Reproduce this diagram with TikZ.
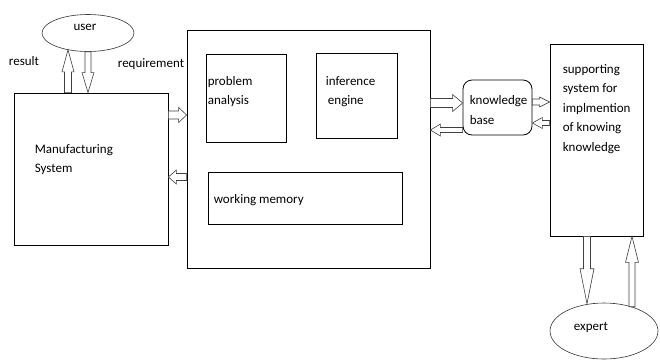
\documentclass[tikz,border=0pt]{standalone}
\usepackage{fontspec}
\setmainfont{Carlito}
\usetikzlibrary{calc,shapes.geometric,positioning}

\begin{document}
\begin{tikzpicture}
  [x=1pt,y=-1pt,
 box/.style={
  rectangle,
  draw=black,
  line width=0.8pt,
  inner sep=0pt},
 oval/.style={
  ellipse,
  draw=black!80,
  line width=0.6pt,
  inner sep=0pt},
 txt/.style={
  font=\fontsize{13}{19.5}\selectfont,
  align=left,
  inner sep=0pt},
 % hollow block arrow: #1 half shaft, #2 half head, #3 head length
 blockarrow/.style n args={3}{
  draw=black!75,
  fill=white,
  line width=0.6pt,
  to path={let \p1=(\tikztostart), \p2=(\tikztotarget),
    \n1={atan2(\y2-\y1,\x2-\x1)}, \n2={veclen(\x2-\x1,\y2-\y1)-#3pt} in
    ($(\p1)+(\n1+90:#1pt)$)
    -- ($(\p1)+(\n1:\n2)+(\n1+90:#1pt)$)
    -- ($(\p1)+(\n1:\n2)+(\n1+90:#2pt)$)
    -- (\p2)
    -- ($(\p1)+(\n1:\n2)+(\n1-90:#2pt)$)
    -- ($(\p1)+(\n1:\n2)+(\n1-90:#1pt)$)
    -- ($(\p1)+(\n1-90:#1pt)$) -- cycle}}]
\useasboundingbox (0,0) rectangle (660,360);
\node (user) [oval, minimum width=92pt, minimum height=37pt, label={[txt,xshift=-3pt,yshift=6pt]center:user}] at (88,33) {};
\node (man) [box, minimum width=154pt, minimum height=152pt, label={[txt,anchor=west,xshift=21pt,yshift=9.5pt]west:Manufacturing\\System}] at (91,169) {};
\node (result) [txt] at (24,61) {result};
\node (req) [txt] at (151,64) {requirement};
\node (main) [box, minimum width=243pt, minimum height=238pt] at (308.5,149) {};
\node (pa) [box, minimum width=80pt, minimum height=88pt, label={[txt,anchor=west,xshift=2pt,yshift=6.5pt]west:problem\\analysis}] at (246,98) {};
\node (ie) [box, minimum width=81pt, minimum height=85pt, label={[txt,anchor=west,xshift=10pt,yshift=4pt]west:inference\\\,engine}] at (356.5,95.5) {};
\node (wm) [box, minimum width=194pt, minimum height=52pt, label={[txt,anchor=west,xshift=6pt,yshift=-2pt]west:working memory}] at (305,198) {};
\node (kb) [box, rounded corners=9pt, minimum width=69pt, minimum height=55pt, label={[txt,anchor=west,xshift=7pt,yshift=-2.5pt]west:knowledge\\base}] at (497.5,107.5) {};
\node (sup) [box, minimum width=93pt, minimum height=192pt, label={[txt,anchor=west,xshift=13pt,yshift=31pt]west:supporting\\system for\\implmention\\of knowing\\knowledge}] at (596.5,140) {};
\node (expert) [oval, minimum width=108pt, minimum height=56pt, label={[txt,xshift=-13pt,yshift=4pt]center:expert}] at (604,331) {};
% user <-> manufacturing system
\draw[blockarrow={3.5}{6}{22}] ([xshift=-23pt]man.north) to ([xshift=-20pt,yshift=2pt]user.south);
\draw[blockarrow={3}{6}{20}] (user.south) to ([xshift=-3pt]man.north);
% manufacturing system <-> expert system
\draw[blockarrow={4}{7.5}{8}] ([yshift=54pt]man.east) to ([yshift=34pt]main.west);
\draw[blockarrow={3.5}{7}{8}] ([yshift=-28pt]main.west) to ([yshift=-8pt]man.east);
% expert system <-> knowledge base
\draw[blockarrow={4.5}{8.5}{10}] ([yshift=46pt]main.east) to ([yshift=4.5pt]kb.west);
\draw[blockarrow={2.5}{6}{10}] ([yshift=-22.5pt]kb.west) to ([yshift=19pt]main.east);
% knowledge base <-> supporting system
\draw[blockarrow={3}{5}{10}] ([yshift=5.5pt]kb.east) to ([yshift=38pt]sup.west);
\draw[blockarrow={2.5}{5.5}{10}] ([yshift=17pt]sup.west) to ([yshift=-15.5pt]kb.east);
% supporting system <-> expert
\draw[blockarrow={3.5}{7}{35}] ([xshift=-9.5pt]sup.south) to ([xshift=-17pt,yshift=-1pt]expert.north);
\draw[blockarrow={3}{6.5}{26}] ([xshift=28pt,yshift=-4pt]expert.north) to ([xshift=35.5pt]sup.south);
\end{tikzpicture}
\end{document}
